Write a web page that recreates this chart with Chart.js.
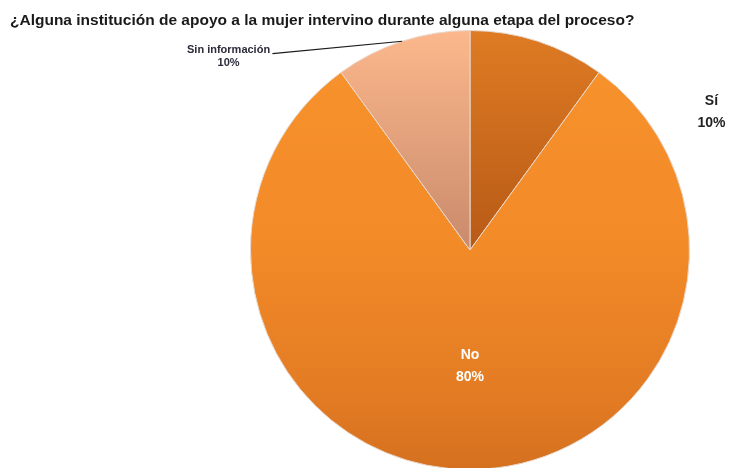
<!DOCTYPE html>
<html>
<head>
<meta charset="utf-8">
<script src="https://cdn.jsdelivr.net/npm/chart.js@4.4.1/dist/chart.umd.min.js"></script>
<style>
  html, body { margin: 0; padding: 0; background: #ffffff; }
  #wrap { width: 729px; height: 468px; overflow: hidden; position: relative; }
  canvas { display: block; }
</style>
</head>
<body>
<div id="wrap"><canvas id="pie" width="729" height="480"></canvas></div>
<script>
// Respuestas a la pregunta sobre instituciones de apoyo a la mujer
const categories = ['Sí', 'No', 'Sin información'];
const shares = [10, 80, 10];
const titleText = '¿Alguna institución de apoyo a la mujer intervino durante alguna etapa del proceso?';

const FONT = '"Liberation Sans", "Noto Sans", sans-serif';

// Vertical gradients per slice, spanning the pie's bounding box
const gradientStops = [
  [[0, '#de7b23'], [0.5, '#b85a17'], [1, '#b85a17']],
  [[0, '#f8932c'], [0.5, '#f28a28'], [0.85, '#e27a23'], [1, '#d4701f']],
  [[0, '#fcb88c'], [0.5, '#c98a6c'], [1, '#c98a6c']]
];

function sliceColor(context) {
  const chart = context.chart;
  const area = chart.chartArea;
  const stops = gradientStops[context.dataIndex];
  if (!area) return stops[1][1];
  const g = chart.ctx.createLinearGradient(0, area.top, 0, area.bottom);
  stops.forEach(([o, c]) => g.addColorStop(o, c));
  return g;
}

// Title and slice labels
const labelsPlugin = {
  id: 'sliceLabels',
  afterDraw(chart) {
    const ctx = chart.ctx;
    const arcs = chart.getDatasetMeta(0).data;
    ctx.save();

    ctx.fillStyle = '#1a1a1a';
    ctx.font = 'bold 15.5px ' + FONT;
    ctx.textAlign = 'left';
    ctx.textBaseline = 'alphabetic';
    ctx.fillText(titleText, 10, 25);

    const a1 = arcs[1], a2 = arcs[2];
    const cx = a1.x, cy = a1.y, R = a1.outerRadius;

    // Sí: outside, to the right
    ctx.fillStyle = '#1f1f1f';
    ctx.font = 'bold 14px ' + FONT;
    ctx.textAlign = 'center';
    ctx.textBaseline = 'middle';
    ctx.fillText(categories[0], cx + R * 1.1, cy - R * 0.68);
    ctx.fillText(shares[0] + '%', cx + R * 1.1, cy - R * 0.58);

    // No: inside, white
    ctx.fillStyle = '#ffffff';
    ctx.fillText(categories[1], cx, cy + R * 0.477);
    ctx.fillText(shares[1] + '%', cx, cy + R * 0.577);

    // Sin información: outside with leader line to the slice's mid-arc
    const mid = (a2.startAngle + a2.endAngle) / 2;
    const ex = cx + R * Math.cos(mid);
    const ey = cy + R * Math.sin(mid);
    ctx.fillStyle = '#2b2b3a';
    ctx.font = 'bold 11px ' + FONT;
    ctx.fillText(categories[2], cx - R * 1.1, cy - R * 0.91);
    ctx.fillText(shares[2] + '%', cx - R * 1.1, cy - R * 0.85);
    ctx.strokeStyle = '#1a1a1a';
    ctx.lineWidth = 1.2;
    ctx.beginPath();
    ctx.moveTo(cx - R * 0.9, cy - R * 0.895);
    ctx.lineTo(ex, ey);
    ctx.stroke();

    ctx.restore();
  }
};

const chart = new Chart(document.getElementById('pie'), {
  type: 'pie',
  data: {
    labels: categories,
    datasets: [{
      data: shares,
      backgroundColor: sliceColor,
      borderColor: '#e8d8cc',
      borderWidth: 1
    }]
  },
  options: {
    responsive: false,
    animation: false,
    layout: { padding: { left: 250, right: 39, top: 30, bottom: 10 } },
    plugins: {
      legend: { display: false },
      title: { display: false },
      tooltip: { enabled: false }
    }
  },
  plugins: [labelsPlugin]
});
// re-resolve colours now that the chart area is known
chart.update();
</script>
</body>
</html>
